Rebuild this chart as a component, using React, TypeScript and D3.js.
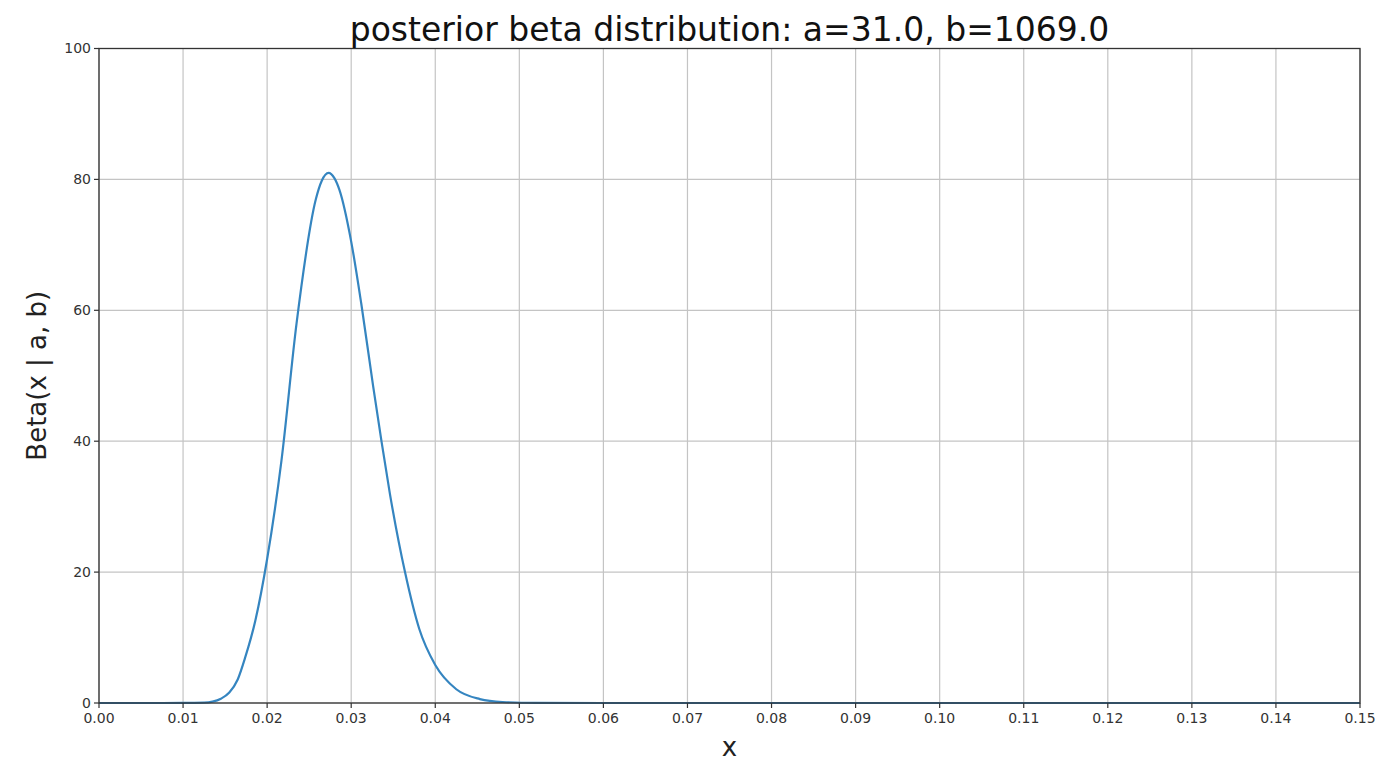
import React from "react";
import * as d3 from "d3";

const TITLE = "posterior beta distribution: a=31.0, b=1069.0";
const X_LABEL = "x";
const Y_LABEL = "Beta(x | a, b)";

const xTicks = [0, 0.01, 0.02, 0.03, 0.04, 0.05, 0.06, 0.07, 0.08, 0.09, 0.1, 0.11, 0.12, 0.13, 0.14, 0.15];
const yTicks = [0, 20, 40, 60, 80, 100];

// curve points
const xs = [0, 0.005, 0.01, 0.0125, 0.0135, 0.0145, 0.0155, 0.0165, 0.0174, 0.0186, 0.02, 0.0217, 0.0235, 0.0258, 0.0265, 0.0273, 0.028, 0.0286, 0.03, 0.0312, 0.0326, 0.0336, 0.0346, 0.0364, 0.0381, 0.04, 0.0425, 0.0453, 0.048, 0.052, 0.06, 0.08, 0.1, 0.12, 0.15];
const ys = [0, 0, 0.01, 0.05, 0.2, 0.65, 1.6, 3.6, 7.0, 12.6, 22, 37, 58, 77, 79.8, 81, 80.2, 78.4, 70.5, 61, 48.5, 40, 32, 20, 11.3, 5.8, 2.1, 0.6, 0.15, 0.02, 0, 0, 0, 0, 0];

const W = 1400;
const H = 772;
const M = { left: 99, right: 40, top: 48.5, bottom: 69 };

export default function App() {
  const x = d3.scaleLinear().domain([0, 0.15]).range([M.left, W - M.right]);
  const y = d3.scaleLinear().domain([0, 100]).range([H - M.bottom, M.top]);
  const pts: [number, number][] = xs.map((v, i) => [v, ys[i]]);
  const line = d3
    .line<[number, number]>()
    .x((d) => x(d[0]))
    .y((d) => y(d[1]))
    .curve(d3.curveMonotoneX);
  const font = "DejaVu Sans, sans-serif";
  return (
    <svg width={W} height={H} style={{ position: "absolute", left: 0, top: 0, background: "#fff" }}>
      <rect x={0} y={0} width={W} height={H} fill="#fff" />
      {xTicks.map((t) => (
        <line key={"gx" + t} x1={x(t)} x2={x(t)} y1={y(0)} y2={y(100)} stroke="#c4c4c4" strokeWidth={1.2} />
      ))}
      {yTicks.map((t) => (
        <line key={"gy" + t} x1={x(0)} x2={x(0.15)} y1={y(t)} y2={y(t)} stroke="#c4c4c4" strokeWidth={1.2} />
      ))}
      <path d={line(pts) || ""} fill="none" stroke="#3585c0" strokeWidth={2.2} />
      <rect x={x(0)} y={y(100)} width={x(0.15) - x(0)} height={y(0) - y(100)} fill="none" stroke="#333" strokeWidth={1.3} />
      {xTicks.map((t) => (
        <g key={"tx" + t}>
          <line x1={x(t)} x2={x(t)} y1={y(0)} y2={y(0) + 5} stroke="#333" strokeWidth={1.2} />
          <text x={x(t)} y={y(0) + 20} textAnchor="middle" fontFamily={font} fontSize={14} fill="#333">
            {t.toFixed(2)}
          </text>
        </g>
      ))}
      {yTicks.map((t) => (
        <g key={"ty" + t}>
          <line x1={x(0) - 5} x2={x(0)} y1={y(t)} y2={y(t)} stroke="#333" strokeWidth={1.2} />
          <text x={x(0) - 8} y={y(t)} dy="0.35em" textAnchor="end" fontFamily={font} fontSize={14} fill="#333">
            {t}
          </text>
        </g>
      ))}
      <text x={(x(0) + x(0.15)) / 2} y={41} textAnchor="middle" fontFamily={font} fontSize={33} fill="#111">
        {TITLE}
      </text>
      <text x={(x(0) + x(0.15)) / 2} y={756} textAnchor="middle" fontFamily={font} fontSize={26} fill="#222">
        {X_LABEL}
      </text>
      <text
        transform={`translate(46, ${(y(0) + y(100)) / 2}) rotate(-90)`}
        textAnchor="middle"
        fontFamily={font}
        fontSize={26}
        fill="#222"
      >
        {Y_LABEL}
      </text>
    </svg>
  );
}
